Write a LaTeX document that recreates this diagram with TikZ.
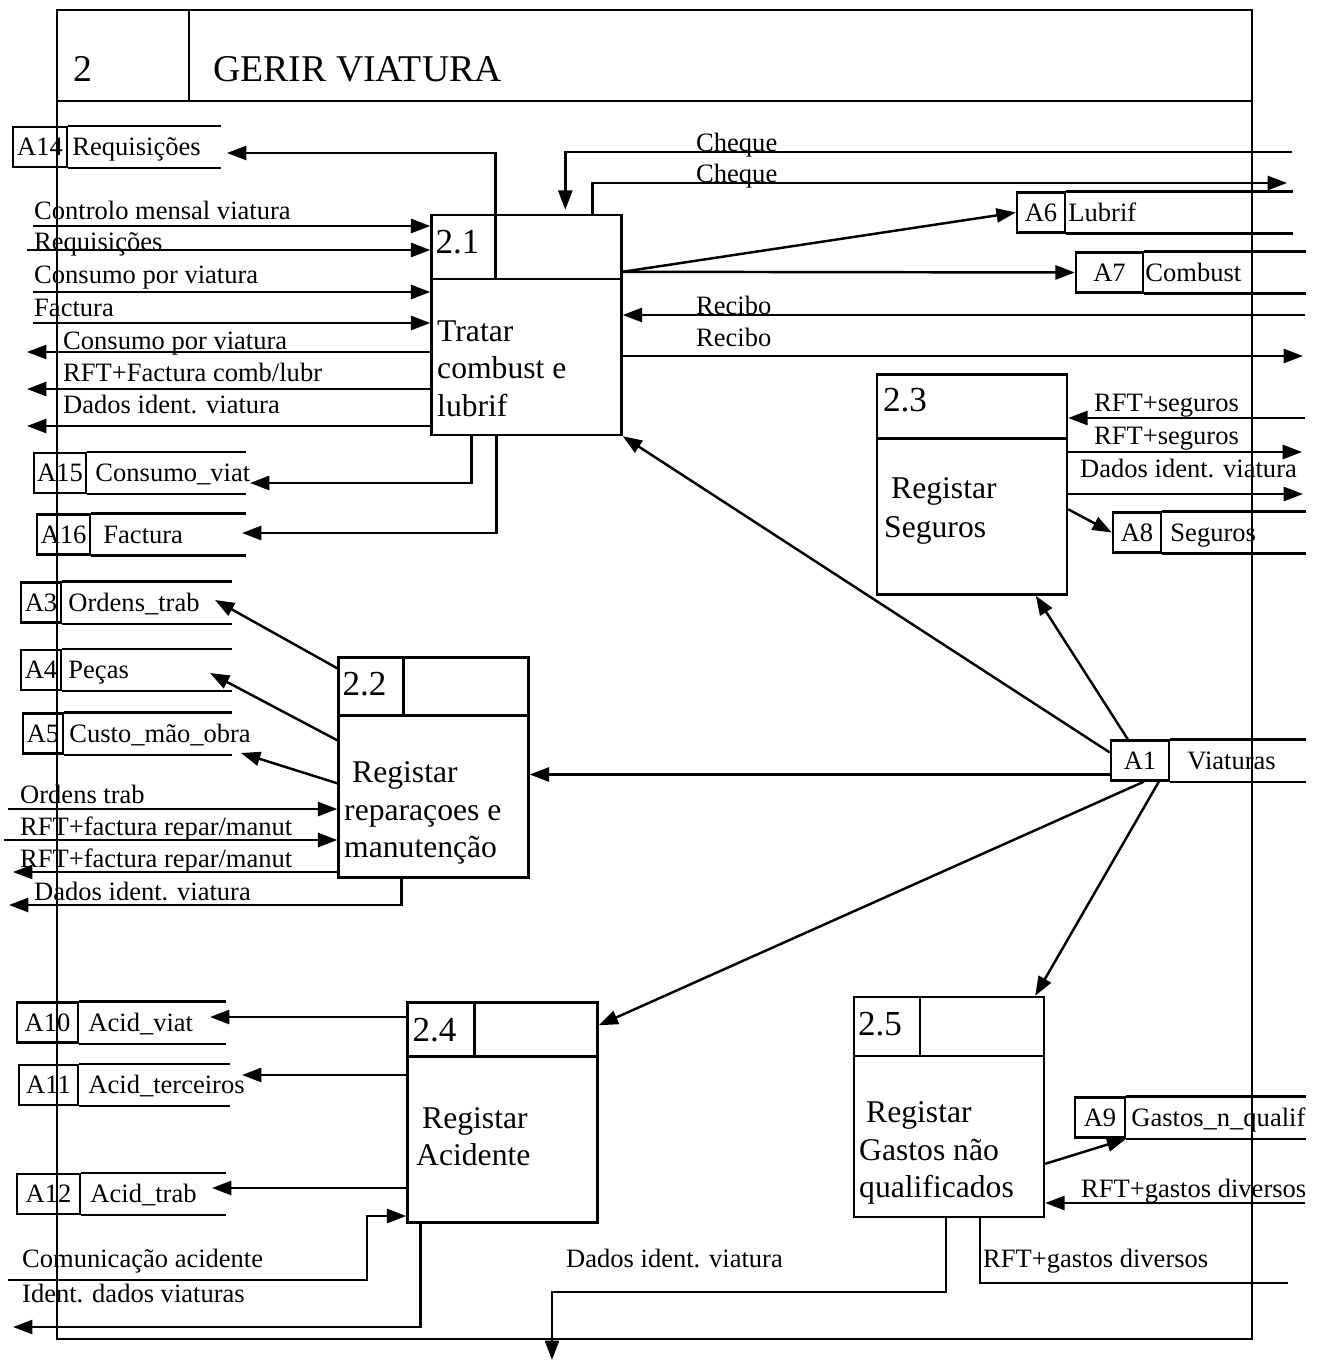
\documentclass[tikz,border=0pt]{standalone}
\usepackage{fontspec}
\setmainfont{Liberation Serif}
\usepackage{tikz}
\usetikzlibrary{positioning, calc, arrows.meta}

\newcommand{\flowfont}{\fontsize{15.1}{18}\selectfont}
\newcommand{\procfont}{\fontsize{18}{21}\selectfont}
\newcommand{\pnumfont}{\fontsize{20}{24}\selectfont}
\newcommand{\titlefont}{\fontsize{21.5}{26}\selectfont}

\begin{document}
\begin{tikzpicture}[x=0.02cm, y=-0.02cm, line width=1.4pt,
    proc/.style={draw, rectangle, minimum width=3.8cm, minimum height=4.4cm, inner sep=0pt},
    pnum/.style={anchor=base west, inner sep=0pt, font=\pnumfont},
    ptext/.style={anchor=base west, inner sep=0pt, font=\procfont},
    sid/.style={draw, rectangle, minimum height=0.8cm, inner sep=0pt, font=\flowfont},
    sname/.style={inner sep=0pt, font=\flowfont},
    lbl/.style={anchor=base west, inner sep=0pt, font=\flowfont},
    flow/.style={-{Triangle[length=11pt, width=8pt]}}]

        \useasboundingbox (0,0) rectangle (1319,1361);

        \draw (57,10) rectangle (1252,1339);
        \draw (57,101) -- (1252,101);
        \draw (189,10) -- (189,101);
        \node[anchor=base west, inner sep=0pt, font=\titlefont] (tnum) at (72,82) {2};
        \node[anchor=base west, inner sep=0pt, font=\titlefont] (ttl) at (212,82) {GERIR VIATURA};

        \node[proc] (p21) at (526.5,325) {};
        \draw ($(p21.north west)+(0,65)$) -- ($(p21.north east)+(0,65)$);
        \draw ($(p21.north west)+(65,0)$) -- ($(p21.north west)+(65,65)$);
        \node[pnum] (n21) at ($(p21.north west)+(4,40)$) {2.1};
        \node[ptext] (t21a) at (436,342) {Tratar};
        \node[ptext] (t21b) at (436,378) {combust e};
        \node[ptext] (t21c) at (436,417) {lubrif};

        \node[proc] (p22) at (433.5,767.5) {};
        \draw ($(p22.north west)+(0,59)$) -- ($(p22.north east)+(0,59)$);
        \draw ($(p22.north west)+(66,0)$) -- ($(p22.north west)+(66,59)$);
        \node[pnum] (n22) at ($(p22.north west)+(4,39)$) {2.2};
        \node[ptext] (t22a) at (351,782) {Registar};
        \node[ptext] (t22b) at (343,820) {reparaçoes e};
        \node[ptext] (t22c) at (343,857) {manutenção};

        \node[proc] (p23) at (972,484.5) {};
        \draw ($(p23.north west)+(0,65)$) -- ($(p23.north east)+(0,65)$);
        \node[pnum] (n23) at ($(p23.north west)+(6,38)$) {2.3};
        \node[ptext] (t23a) at (890,498) {Registar};
        \node[ptext] (t23b) at (883,537) {Seguros};

        \node[proc] (p24) at (502.5,1112.5) {};
        \draw ($(p24.north west)+(0,55)$) -- ($(p24.north east)+(0,55)$);
        \draw ($(p24.north west)+(68,0)$) -- ($(p24.north west)+(68,55)$);
        \node[pnum] (n24) at ($(p24.north west)+(5,40)$) {2.4};
        \node[ptext] (t24a) at (421,1128) {Registar};
        \node[ptext] (t24b) at (415,1165) {Acidente};

        \node[proc] (p25) at (949,1107) {};
        \draw ($(p25.north west)+(0,60)$) -- ($(p25.north east)+(0,60)$);
        \draw ($(p25.north west)+(67,0)$) -- ($(p25.north west)+(67,60)$);
        \node[pnum] (n25) at ($(p25.north west)+(4,40)$) {2.5};
        \node[ptext] (t25a) at (865,1122) {Registar};
        \node[ptext] (t25b) at (858,1160) {Gastos não};
        \node[ptext] (t25c) at (858,1197) {qualificados};

        \node[sid, minimum width=1.08cm] (a14) at (40,147) {A14};
        \node[sname, base right=0.06cm of a14] (a14n) {Requisições};
        \draw (a14.north east) -- ++(153,0) (a14.south east) -- ++(153,0);
        \node[sid, minimum width=1.04cm] (a15) at (60,473) {A15};
        \node[sname, base right=0.14cm of a15] (a15n) {Consumo\_viat};
        \draw (a15.north east) -- ++(159,0) (a15.south east) -- ++(159,0);
        \node[sid, minimum width=1.06cm] (a16) at (63.5,534.5) {A16};
        \node[sname, base right=0.22cm of a16] (a16n) {Factura};
        \draw (a16.north east) -- ++(155,0) (a16.south east) -- ++(155,0);
        \node[sid, minimum width=0.8cm] (a3) at (41,602.5) {A3};
        \node[sname, base right=0.1cm of a3] (a3n) {Ordens\_trab};
        \draw (a3.north east) -- ++(170,0) (a3.south east) -- ++(170,0);
        \node[sid, minimum width=0.8cm] (a4) at (41,670) {A4};
        \node[sname, base right=0.1cm of a4] (a4n) {Peças};
        \draw (a4.north east) -- ++(170,0) (a4.south east) -- ++(170,0);
        \node[sid, minimum width=0.8cm] (a5) at (43,733.5) {A5};
        \node[sname, base right=0.08cm of a5] (a5n) {Custo\_mão\_obra};
        \draw (a5.north east) -- ++(168,0) (a5.south east) -- ++(168,0);
        \node[sid, minimum width=0.96cm] (a6) at (1041,212.5) {A6};
        \node[sname, base right=0.02cm of a6] (a6n) {Lubrif};
        \draw (a6.north east) -- ++(227,0) (a6.south east) -- ++(227,0);
        \node[sid, minimum width=1.34cm] (a7) at (1109.5,272.5) {A7};
        \node[sname, base right=0cm of a7] (a7n) {Combust};
        \draw (a7.north east) -- ++(162,0) (a7.south east) -- ++(162,0);
        \node[sid, minimum width=0.96cm] (a8) at (1137,532.5) {A8};
        \node[sname, base right=0.14cm of a8] (a8n) {Seguros};
        \draw (a8.north east) -- ++(144,0) (a8.south east) -- ++(144,0);
        \node[sid, minimum width=1.16cm] (a1) at (1140,760.5) {A1};
        \node[sname, base right=0.32cm of a1] (a1n) {Viaturas};
        \draw (a1.north east) -- ++(136,0) (a1.south east) -- ++(136,0);
        \node[sid, minimum width=1.22cm] (a10) at (47.5,1022.5) {A10};
        \node[sname, base right=0.16cm of a10] (a10n) {Acid\_viat};
        \draw (a10.north east) -- ++(147,0) (a10.south east) -- ++(147,0);
        \node[sid, minimum width=1.18cm] (a11) at (48.5,1085) {A11};
        \node[sname, base right=0.16cm of a11] (a11n) {Acid\_terceiros};
        \draw (a11.north east) -- ++(151,0) (a11.south east) -- ++(151,0);
        \node[sid, minimum width=1.26cm] (a12) at (48.5,1194) {A12};
        \node[sname, base right=0.16cm of a12] (a12n) {Acid\_trab};
        \draw (a12.north east) -- ++(145,0) (a12.south east) -- ++(145,0);
        \node[sid, minimum width=1.0cm] (a9) at (1100,1117.5) {A9};
        \node[sname, base right=0.08cm of a9] (a9n) {Gastos\_n\_qualif};
        \draw (a9.north east) -- ++(180,0) (a9.south east) -- ++(180,0);

        \coordinate (ctl) at (33,226);
        \coordinate (req) at (27,250);
        \coordinate (cpv) at (33,292);
        \coordinate (fac) at (33,323);
        \coordinate (cpo) at (27,352);
        \coordinate (rfc) at (27,389);
        \coordinate (di1) at (27,426);
        \coordinate (r14) at (227,153);
        \coordinate (r15) at (250,483);
        \coordinate (r16) at (242,533);
        \coordinate (ch1) at (1292,152);
        \coordinate (ch2) at (1287,183);
        \coordinate (re1) at (1305,315);
        \coordinate (re2) at (1303,356);
        \coordinate (p21o) at ($(p21.north east)+(0,58)$);
        \coordinate (rs1) at (1305,418);
        \coordinate (rs2) at (1302,452);
        \coordinate (di2) at (1303,494);
        \coordinate (r3) at (215,600);
        \coordinate (r4) at (210,673);
        \coordinate (r5) at (241,753);
        \coordinate (ord) at (8,809);
        \coordinate (rf1) at (4,840);
        \coordinate (rf2) at (13,872);
        \coordinate (di3) at (9,905);
        \coordinate (a1w) at ($(a1.west)+(0,14)$);
        \coordinate (r10) at (210,1017);
        \coordinate (r11) at (242,1075);
        \coordinate (r12) at (212,1188);
        \coordinate (com) at (8,1280);
        \coordinate (comk) at (367,1216);
        \coordinate (idv) at (13,1327);
        \coordinate (rg1) at (1305,1203);
        \coordinate (rg2) at (1288,1283);
        \coordinate (dv1) at (552,1292);
        \coordinate (dvo) at (552,1360);

        \draw[flow] (ctl) -- (ctl -| p21.west);
        \draw[flow] (req) -- (req -| p21.west);
        \draw[flow] (cpv) -- (cpv -| p21.west);
        \draw[flow] (fac) -- (fac -| p21.west);
        \draw[flow] (cpo -| p21.west) -- (cpo);
        \draw[flow] (rfc -| p21.west) -- (rfc);
        \draw[flow] (di1 -| p21.west) -- (di1);
        \draw[flow] ($(p21.north west)+(65,0)$) |- (r14);
        \draw[flow] (ch1) -| ($(p21.north west)+(135,-4)$);
        \draw[flow] ($(p21.north west)+(162,0)$) |- (ch2);
        \draw[flow] (p21o) -- (a6.west);
        \draw[flow] (p21o) -- (a7.west);
        \draw[flow] (re1) -- (re1 -| p21.east);
        \draw[flow] (re2 -| p21.east) -- (re2);
        \draw[flow] ($(p21.south west)+(41,0)$) |- (r15);
        \draw[flow] ($(p21.south west)+(66,0)$) |- (r16);

        \draw[flow] (rs1) -- (rs1 -| p23.east);
        \draw[flow] (rs2 -| p23.east) -- (rs2);
        \draw[flow] (di2 -| p23.east) -- (di2);
        \draw[flow] ($(p23.north east)+(0,136)$) -- (a8.west);

        \draw[flow] ($(p22.north west)+(0,12)$) -- (r3);
        \draw[flow] ($(p22.north west)+(0,84)$) -- (r4);
        \draw[flow] ($(p22.north west)+(0,127)$) -- (r5);
        \draw[flow] (ord) -- (ord -| p22.west);
        \draw[flow] (rf1) -- (rf1 -| p22.west);
        \draw[flow] (rf2 -| p22.west) -- (rf2);
        \draw[flow] ($(p22.south west)+(64,0)$) |- (di3);

        \draw[flow] ($(a1.west)+(0,-8)$) -- (p21.south east);
        \draw[flow] ($(a1.north west)+(18,0)$) -- ($(p23.south west)+(160,0)$);
        \draw[flow] (a1w) -- (a1w -| p22.east);
        \draw[flow] ($(a1.south west)+(34,0)$) -- ($(p24.north east)+(0,24)$);
        \draw[flow] ($(a1.south west)+(49,0)$) -- ($(p25.north east)+(-10,0)$);

        \draw[flow] (r10 -| p24.west) -- (r10);
        \draw[flow] (r11 -| p24.west) -- (r11);
        \draw[flow] (r12 -| p24.west) -- (r12);
        \draw[flow] (com) -| (comk) -- (comk -| p24.west);
        \draw[flow] ($(p24.south west)+(14,0)$) |- (idv);

        \draw[flow] ($(p25.north east)+(0,168)$) -- (a9.south east);
        \draw[flow] (rg1) -- (rg1 -| p25.east);
        \draw ($(p25.south west)+(127,0)$) |- (rg2);
        \draw[flow] ($(p25.south west)+(93,0)$) |- (dv1) -- (dvo);

        \node[lbl] (lctl) at (33,220) {Controlo mensal viatura};
        \node[lbl] (lreq) at (33,251) {Requisições};
        \node[lbl] (lcpv) at (33,284) {Consumo por viatura};
        \node[lbl] (lfac) at (33,317) {Factura};
        \node[lbl] (lcpo) at (62,350) {Consumo por viatura};
        \node[lbl] (lrfc) at (62,381) {RFT+Factura comb/lubr};
        \node[lbl] (ldi1) at (62,414) {Dados ident. viatura};
        \node[lbl] (lch1) at (695,152) {Cheque};
        \node[lbl] (lch2) at (695,183) {Cheque};
        \node[lbl] (lre1) at (695,315) {Recibo};
        \node[lbl] (lre2) at (695,347) {Recibo};
        \node[lbl] (lrs1) at (1093,412) {RFT+seguros};
        \node[lbl] (lrs2) at (1093,444) {RFT+seguros};
        \node[lbl] (ldi2) at (1079,477) {Dados ident. viatura};
        \node[lbl] (lord) at (19,803) {Ordens trab};
        \node[lbl] (lrf1) at (19,835) {RFT+factura repar/manut};
        \node[lbl] (lrf2) at (19,867) {RFT+factura repar/manut};
        \node[lbl] (ldi3) at (33,900) {Dados ident. viatura};
        \node[lbl] (lcom) at (21,1267) {Comunicação acidente};
        \node[lbl] (lidv) at (21,1302) {Ident. dados viaturas};
        \node[lbl] (ldi4) at (565,1267) {Dados ident. viatura};
        \node[lbl] (lrg1) at (1080,1197) {RFT+gastos diversos};
        \node[lbl] (lrg2) at (982,1267) {RFT+gastos diversos};

\end{tikzpicture}
\end{document}
